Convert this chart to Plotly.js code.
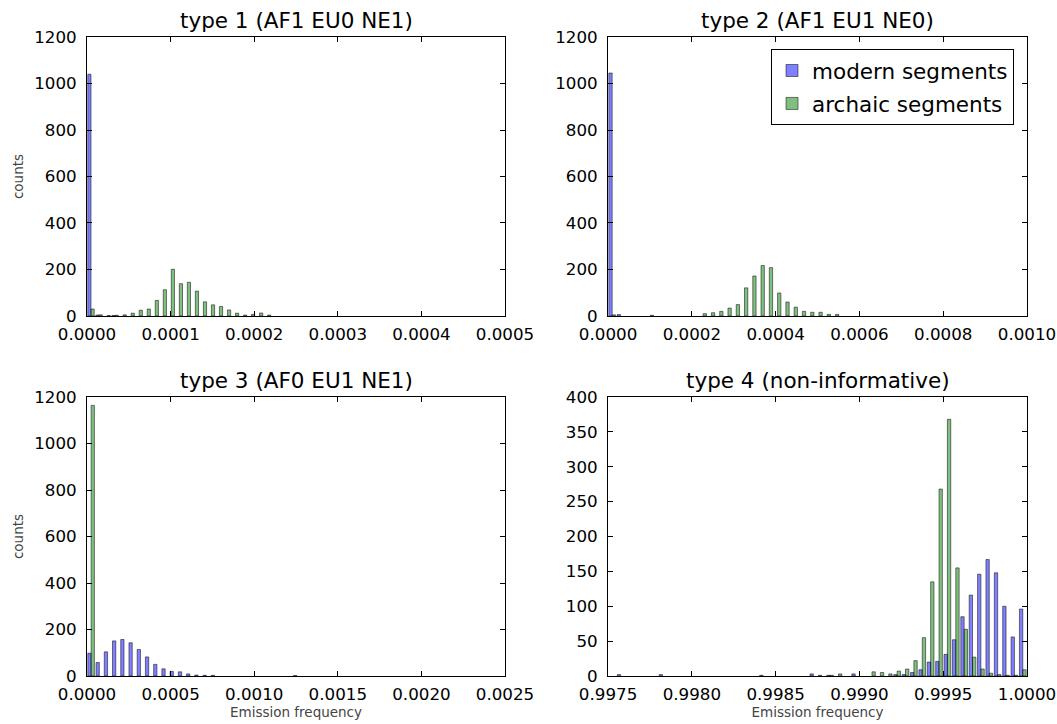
<!DOCTYPE html>
<html>
<head>
<meta charset="utf-8">
<script src="https://cdn.plot.ly/plotly-3.0.1.min.js"></script>
<style>
  html, body { margin: 0; padding: 0; background: #fff; }
  #chart { width: 1057px; height: 724px; }
</style>
</head>
<body>
<div id="chart"></div>
<script>
// Histogram counts per panel, 50 equal-width bins each.
const panelTitles = [
  "type 1 (AF1 EU0 NE1)",
  "type 2 (AF1 EU1 NE0)",
  "type 3 (AF0 EU1 NE1)",
  "type 4 (non-informative)"
];
const seriesNames = ["modern segments", "archaic segments"];

// Bin layout: first bin edge and bin width for each panel
const binStart = [0, 0, 0, 0.9975];
const binWidth = [9.6e-6, 1.974e-5, 4.92e-5, 5e-5];

const p1Modern = [
  1040, 4, 0, 2, 0, 0, 0, 0, 0, 0,
  0, 0, 0, 0, 0, 0, 0, 0, 0, 0,
  0, 0, 0, 0, 0, 0, 0, 0, 0, 0,
  0, 0, 0, 0, 0, 0, 0, 0, 0, 0,
  0, 0, 0, 0, 0, 0, 0, 0, 0, 0
];
const p1Archaic = [
  30, 5, 2, 3, 5, 12, 25, 30, 67, 113,
  201, 139, 145, 107, 61, 48, 41, 26, 12, 4,
  7, 13, 4, 0, 0, 0, 0, 0, 0, 0,
  0, 0, 0, 0, 0, 0, 0, 0, 0, 0,
  0, 0, 0, 0, 0, 0, 0, 0, 0, 0
];
const p2Modern = [
  1045, 6, 0, 0, 0, 3, 0, 0, 0, 0,
  0, 0, 0, 0, 0, 0, 0, 0, 0, 0,
  0, 0, 0, 0, 0, 0, 0, 0, 0, 0,
  0, 0, 0, 0, 0, 0, 0, 0, 0, 0,
  0, 0, 0, 0, 0, 0, 0, 0, 0, 0
];
const p2Archaic = [
  5, 0, 0, 0, 0, 0, 0, 0, 0, 0,
  0, 10, 14, 20, 34, 49, 121, 172, 217, 208,
  99, 60, 38, 20, 16, 16, 7, 7, 0, 0,
  0, 0, 0, 0, 0, 0, 0, 0, 0, 0,
  0, 0, 0, 0, 0, 0, 0, 0, 0, 0
];
const p3Modern = [
  98, 58, 104, 151, 157, 143, 114, 82, 50, 31,
  20, 18, 9, 4, 3, 3, 0, 0, 0, 0,
  0, 0, 0, 0, 0, 2, 0, 0, 0, 0,
  0, 0, 0, 0, 0, 0, 0, 0, 0, 0,
  0, 0, 0, 0, 0, 0, 0, 0, 0, 0
];
const p3Archaic = [
  1164, 0, 0, 0, 0, 0, 0, 0, 0, 0,
  0, 0, 0, 0, 0, 0, 0, 0, 0, 0,
  0, 0, 0, 0, 0, 0, 0, 0, 0, 0,
  0, 0, 0, 0, 0, 0, 0, 0, 0, 0,
  0, 0, 0, 0, 0, 0, 0, 0, 0, 0
];
const p4Modern = [
  0, 2, 0, 0, 0, 0, 2, 0, 0, 0,
  0, 0, 0, 0, 0, 0, 0, 0, 1, 0,
  0, 0, 0, 0, 3, 1, 1, 0, 0, 3,
  0, 0, 0, 0, 2, 2, 5, 9, 20, 21,
  31, 52, 85, 116, 146, 167, 148, 100, 56, 96
];
const p4Archaic = [
  0, 0, 0, 0, 0, 0, 0, 0, 0, 0,
  0, 0, 0, 0, 0, 0, 0, 0, 0, 0,
  0, 0, 0, 0, 0, 0, 1, 3, 0, 0,
  0, 6, 5, 3, 7, 10, 22, 55, 135, 268,
  368, 155, 67, 27, 10, 4, 2, 1, 1, 9
];

const modernCounts = [p1Modern, p2Modern, p3Modern, p4Modern];
const archaicCounts = [p1Archaic, p2Archaic, p3Archaic, p4Archaic];

// Axis settings per panel
const xRanges = [[0, 0.0005], [0, 0.001], [0, 0.0025], [0.9975, 1.0]];
const xSteps = [0.0001, 0.0002, 0.0005, 0.0005];
const yRanges = [[0, 1200], [0, 1200], [0, 1200], [0, 400]];
const ySteps = [200, 200, 200, 50];

const font = "DejaVu Sans, Liberation Sans, sans-serif";
const fillColors = ["rgba(0,0,255,0.5)", "rgba(0,128,0,0.5)"];
const edgeColor = "rgba(0,0,0,0.5)";

function binCenters(p, n) {
  const c = [];
  for (let k = 0; k < n; k++) c.push(binStart[p] + (k + 0.5) * binWidth[p]);
  return c;
}

const traces = [];
for (let p = 0; p < 4; p++) {
  const sfx = p === 0 ? "" : String(p + 1);
  const groups = [modernCounts[p], archaicCounts[p]];
  groups.forEach((counts, s) => {
    const w = binWidth[p];
    traces.push({
      type: "bar",
      name: seriesNames[s],
      legendgroup: seriesNames[s],
      showlegend: p === 1,
      x: binCenters(p, counts.length),
      // empty bins are left undrawn
      y: counts.map(v => (v === 0 ? null : v)),
      width: 0.4 * w,
      offset: s === 0 ? -0.4 * w : 0,
      xaxis: "x" + sfx,
      yaxis: "y" + sfx,
      marker: { color: fillColors[s], line: { color: edgeColor, width: 1 } },
      hoverinfo: "x+y+name"
    });
  });
}

const leftDom = [0, 0.4447];
const rightDom = [0.5543, 1];
const topDom = [0.5634, 1];
const botDom = [0, 0.4366];
const xDomains = [leftDom, rightDom, leftDom, rightDom];
const yDomains = [topDom, topDom, botDom, botDom];

function axisBase() {
  return {
    showline: true, linecolor: "#000", linewidth: 1, mirror: "allticks",
    ticks: "inside", ticklen: 5, tickwidth: 1, tickcolor: "#000",
    showgrid: false, zeroline: false,
    tickfont: { family: font, size: 16.7, color: "#000" }
  };
}

const layout = {
  width: 1057, height: 724,
  margin: { l: 87, r: 30, t: 37, b: 48 },
  paper_bgcolor: "#fff", plot_bgcolor: "#fff",
  barmode: "overlay",
  font: { family: font, color: "#000" },
  showlegend: true,
  legend: {
    x: 0.9862, y: 0.9812, xanchor: "right", yanchor: "top",
    bgcolor: "#fff", bordercolor: "#000", borderwidth: 1,
    font: { family: font, size: 21.5, color: "#000" },
    traceorder: "grouped", tracegroupgap: 2, itemwidth: 30
  },
  annotations: []
};

for (let p = 0; p < 4; p++) {
  const sfx = p === 0 ? "" : String(p + 1);
  const xa = Object.assign(axisBase(), {
    domain: xDomains[p], anchor: "y" + sfx,
    range: xRanges[p], tick0: xRanges[p][0], dtick: xSteps[p],
    tickformat: ".4f", ticklabelstandoff: 3
  });
  const ya = Object.assign(axisBase(), {
    domain: yDomains[p], anchor: "x" + sfx,
    range: yRanges[p], tick0: 0, dtick: ySteps[p],
    ticklabelstandoff: 6
  });
  if (p === 0 || p === 2) {
    ya.title = { text: "counts", font: { family: font, size: 13.5, color: "#444" }, standoff: 7 };
  }
  if (p === 2 || p === 3) {
    xa.title = { text: "Emission frequency", font: { family: font, size: 13.5, color: "#444" }, standoff: 4 };
  }
  layout["xaxis" + sfx] = xa;
  layout["yaxis" + sfx] = ya;
  layout.annotations.push({
    text: panelTitles[p], xref: "paper", yref: "paper",
    x: (xDomains[p][0] + xDomains[p][1]) / 2, y: yDomains[p][1],
    xanchor: "center", yanchor: "bottom", yshift: 2, showarrow: false,
    font: { family: font, size: 21.5, color: "#000" }
  });
}

Plotly.newPlot("chart", traces, layout, { displayModeBar: false, staticPlot: true });
</script>
</body>
</html>
